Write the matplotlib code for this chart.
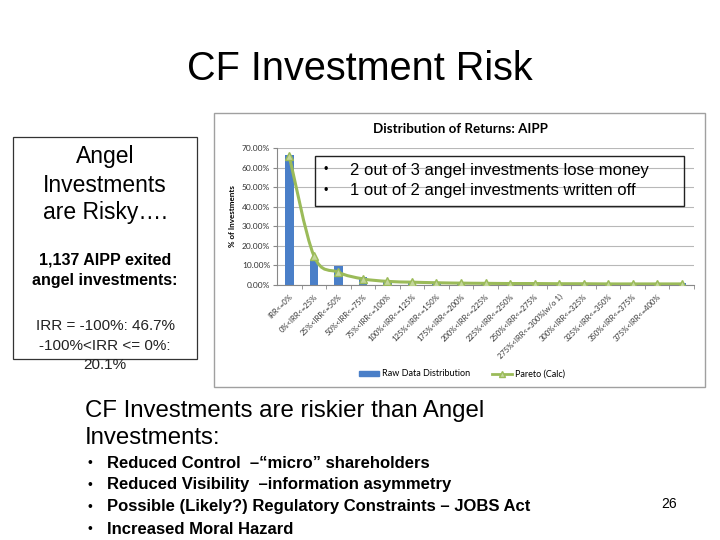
import matplotlib
matplotlib.use("Agg")
import matplotlib.pyplot as plt
import matplotlib.patches as mpatches
from matplotlib.path import Path
from matplotlib.lines import Line2D
import numpy as np

# ---------------------------------------------------------------------------
# Data
# ---------------------------------------------------------------------------
categories = [
    "IRR<=0%", "0%<IRR<=25%", "25%<IRR<=50%", "50%<IRR<=75%",
    "75%<IRR<=100%", "100%<IRR<=125%", "125%<IRR<=150%", "175%<IRR<=200%",
    "200%<IRR<=225%", "225%<IRR<=250%", "250%<IRR<=275%",
    "275%<IRR<=300%(w/o 1)", "300%<IRR<=325%", "325%<IRR<=350%",
    "350%<IRR<=375%", "375%<IRR<=400%", "",
]
raw_pct = [66.5, 12.4, 9.3, 3.7, 1.5, 1.0, 0.8, 0.6, 0.5, 0.4, 0.4, 0.3,
           0.3, 0.2, 0.2, 0.2, 1.0]
pareto_pct = [66.0, 14.9, 6.3, 2.9, 1.6, 1.2, 0.9, 0.7, 0.6, 0.5, 0.5, 0.4,
              0.4, 0.3, 0.3, 0.3, 0.3]
yticks = [0, 10, 20, 30, 40, 50, 60, 70]

ARIAL = ["Liberation Sans", "DejaVu Sans"]
CALIBRI = ["Lato", "DejaVu Sans"]
BLUE = "#4A7FC8"
GREEN = "#9BBB59"


def fx(x):
    return x / 720.0


def fy(y):
    return 1.0 - y / 540.0


fig = plt.figure(figsize=(7.2, 5.4), dpi=100)

# ---- Slide title -----------------------------------------------------------
fig.text(fx(360), fy(69), "CF Investment Risk", fontsize=28.5, family=ARIAL,
         ha="center", va="center")

# ---- Left text box ----------------------------------------------------------
fig.patches.append(mpatches.Rectangle((fx(13), fy(359)), fx(184), 222 / 540,
                                      transform=fig.transFigure, fill=False,
                                      edgecolor="#333333", lw=0.9))
for y, t in zip([157, 185, 213], ["Angel", "Investments", "are Risky…."]):
    fig.text(fx(105), fy(y), t, fontsize=16.5, family=ARIAL, ha="center", va="center")
for y, t in zip([260, 281], ["1,137 AIPP exited", "angel investments:"]):
    fig.text(fx(105), fy(y), t, fontsize=11.5, family=ARIAL, weight="bold",
             ha="center", va="center")
for y, t in zip([326, 346, 365], ["IRR = -100%: 46.7%", "-100%<IRR <= 0%:", "20.1%"]):
    fig.text(fx(105), fy(y), t, fontsize=11, family=ARIAL, color="#222222",
             ha="center", va="center")

# ---- Chart frame (behind the axes) ---------------------------------------------
fig.patches.append(mpatches.Rectangle((fx(214), fy(387)), fx(491), 274 / 540,
                                      transform=fig.transFigure, facecolor="white",
                                      edgecolor="#A0A0A0", lw=1.0, zorder=-1))
fig.text(fx(460), fy(129), "Distribution of Returns: AIPP", fontsize=9.6,
         family=CALIBRI, weight="bold", ha="center", va="center")

ax = fig.add_axes([fx(277), fy(284.5), fx(694 - 277), (284.5 - 148.3) / 540])
ax.patch.set_alpha(0)
x = np.arange(len(categories))
ax.bar(x, raw_pct, width=0.35, color=BLUE, zorder=2)

# smoothed pareto line (Catmull-Rom through the points, like Excel's smoothing)
pts = np.column_stack([x, pareto_pct]).astype(float)
verts = [tuple(pts[0])]
codes = [Path.MOVETO]
for i in range(len(pts) - 1):
    p0 = pts[max(i - 1, 0)]
    p1, p2 = pts[i], pts[i + 1]
    p3 = pts[min(i + 2, len(pts) - 1)]
    verts += [tuple(p1 + (p2 - p0) / 6), tuple(p2 - (p3 - p1) / 6), tuple(p2)]
    codes += [Path.CURVE4] * 3
ax.add_patch(mpatches.PathPatch(Path(verts, codes), fill=False, edgecolor=GREEN,
                                lw=2.2, zorder=3, capstyle="round"))
ax.plot(x, pareto_pct, ls="none", marker="^", ms=5.5, mfc="#C3D69B",
        mec=GREEN, mew=1, zorder=4)

ax.set_xlim(-0.5, len(categories) - 0.5)
ax.set_ylim(0, 70)
ax.set_yticks(yticks)
ax.set_yticklabels([f"{v:.2f}%" for v in yticks], fontsize=6, family=CALIBRI,
                   color="#333333")
ax.set_xticks(x)
ax.set_xticklabels(categories, rotation=45, ha="right", rotation_mode="anchor",
                   fontsize=5.5, family=CALIBRI, color="#333333")
ax.set_xticks(np.arange(len(categories)) + 0.5, minor=True)
ax.tick_params(axis="x", which="major", length=0, pad=6)
ax.tick_params(axis="x", which="minor", length=3, color="#888888", direction="out")
ax.tick_params(axis="y", length=3, color="#888888", pad=2)
ax.set_ylabel("% of Investments", fontsize=5.8, family=CALIBRI, weight="bold",
              labelpad=4)
ax.grid(axis="y", color="#B8B8B8", lw=0.8, zorder=0)
ax.set_axisbelow(True)
for side in ["top", "right"]:
    ax.spines[side].set_visible(False)
for side in ["left", "bottom"]:
    ax.spines[side].set_color("#888888")
    ax.spines[side].set_linewidth(0.8)

handles = [
    mpatches.Patch(color=BLUE, label="Raw Data Distribution"),
    Line2D([], [], color=GREEN, lw=2, marker="^", ms=4, mfc="#C3D69B", mec=GREEN,
           label="Pareto (Calc)"),
]
fig.legend(handles=handles, loc="center", bbox_to_anchor=(fx(462), fy(374)),
           ncol=2, frameon=False, prop={"family": CALIBRI, "size": 6.5},
           handlelength=2.2, handleheight=0.5, columnspacing=2.5, handletextpad=0.3)

# ---- Bullet box on the chart -------------------------------------------------
fig.patches.append(mpatches.Rectangle((fx(315), fy(206)), fx(684 - 315), 50 / 540,
                                      transform=fig.transFigure, fill=False,
                                      edgecolor="#222222", lw=1.0, zorder=5))
for y, t in zip([170, 191], ["2 out of 3 angel investments lose money",
                             "1 out of 2 angel investments written off"]):
    fig.text(fx(324), fy(y), "•", fontsize=9, family=ARIAL, ha="left", va="center")
    fig.text(fx(350), fy(y), t, fontsize=12, family=ARIAL, ha="left", va="center")

# ---- Bottom text -------------------------------------------------------------
fig.text(fx(85), fy(411), "CF Investments are riskier than Angel", fontsize=17.3,
         family=ARIAL, ha="left", va="center")
fig.text(fx(85), fy(438), "Investments:", fontsize=17.3, family=ARIAL,
         ha="left", va="center")
bullets = [
    "Reduced Control  –“micro” shareholders",
    "Reduced Visibility  –information asymmetry",
    "Possible (Likely?) Regulatory Constraints – JOBS Act",
    "Increased Moral Hazard",
]
for y, t in zip([463, 485, 507, 529], bullets):
    fig.text(fx(87), fy(y), "•", fontsize=10, family=ARIAL, ha="left", va="center")
    fig.text(fx(107), fy(y), t, fontsize=12, family=ARIAL, weight="bold",
             ha="left", va="center")

fig.text(fx(669), fy(504), "26", fontsize=10, family=ARIAL, ha="center", va="center")

fig.savefig("out.png", dpi=100)
